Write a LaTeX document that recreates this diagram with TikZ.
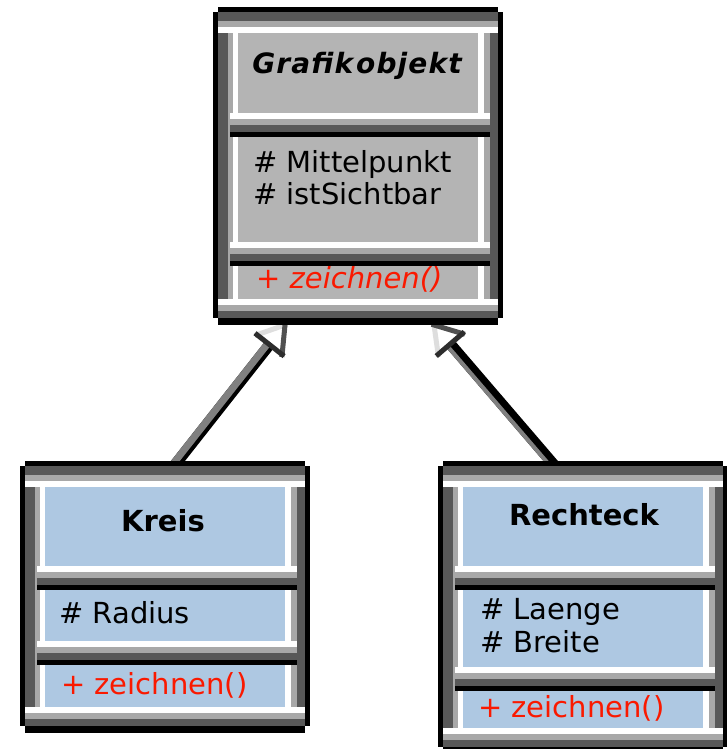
\documentclass[tikz,border=0pt]{standalone}
\usepackage{fontspec}
\setmainfont{DejaVu Sans}
\newfontfamily\titlefont{DejaVu Sans}[LetterSpace=4]
\usetikzlibrary{calc}

\definecolor{frameDark}{RGB}{88,88,88}
\definecolor{frameLight}{RGB}{168,168,168}
\definecolor{abstractFill}{RGB}{180,180,180}
\definecolor{classFill}{RGB}{174,200,226}
\definecolor{opRed}{RGB}{250,25,0}
\definecolor{arrowLight}{RGB}{222,222,222}
\definecolor{arrowDark}{RGB}{45,45,45}
\definecolor{arrowMid}{RGB}{80,80,80}
\definecolor{lineGray}{RGB}{128,128,128}

\tikzset{
  x=1pt, y=-1pt,
  labeltext/.style={inner sep=0pt, font=\fontsize{29}{34}\selectfont},
  nametext/.style={labeltext, anchor=base, font=\fontsize{29}{34}\selectfont\bfseries},
  attrtext/.style={labeltext, anchor=base west},
  optext/.style={labeltext, anchor=base west, text=opRed},
  connblack/.style={line width=11pt, black},
  conngray/.style={lineGray},
  headedge/.style={line width=5pt, line cap=rect},
}

% bevelled class frame: left, top, right, bottom, fill colour
\newcommand\bevelframe[5]{%
  \fill[#5] (#1+5,#2+5) rectangle (#3-5,#4-7);
  % side pillars
  \fill[frameDark]  (#1+5,#2+5)  rectangle (#1+15,#4-7);
  \fill[frameLight] (#1+15,#2+5) rectangle (#1+20,#4-7);
  \fill[white]      (#1+20,#2+5) rectangle (#1+25,#4-7);
  \fill[white]      (#3-25,#2+5) rectangle (#3-19,#4-7);
  \fill[frameLight] (#3-19,#2+5) rectangle (#3-13,#4-7);
  \fill[frameDark]  (#3-13,#2+5) rectangle (#3-5,#4-7);
  % top bands
  \fill[frameDark]  (#1+5,#2+5)  rectangle (#3-5,#2+14);
  \fill[frameLight] (#1+5,#2+14) rectangle (#3-5,#2+20);
  \fill[white]      (#1+5,#2+20) rectangle (#3-5,#2+26);
  % bottom bands
  \fill[white]      (#1+5,#4-26) rectangle (#3-5,#4-20);
  \fill[frameLight] (#1+5,#4-20) rectangle (#3-5,#4-14);
  \fill[frameDark]  (#1+5,#4-14) rectangle (#3-5,#4-7);
  % black outline with notched corners
  \fill[black] (#1+5,#2) rectangle (#3-5,#2+5);
  \fill[black] (#1+5,#4-7) rectangle (#3-5,#4);
  \fill[black] (#1,#2+5) rectangle (#1+5,#4-7);
  \fill[black] (#3-5,#2+5) rectangle (#3,#4-7);
}

% compartment separator: left, right, top of the rule
\newcommand\bevelrule[3]{%
  \fill[white]      (#1+17,#3)    rectangle (#2-13,#3+6);
  \fill[frameLight] (#1+17,#3+6)  rectangle (#2-13,#3+12);
  \fill[frameDark]  (#1+17,#3+12) rectangle (#2-13,#3+19);
  \fill[black]      (#1+17,#3+19) rectangle (#2-13,#3+24);
}

% generalization connector: from (#1) to tip (#2), helper prefix #3,
% width of the grey half #4, its sideways shift #5
\newcommand\inheritline[5]{%
  \coordinate (#3base) at ($(#2)!25pt!(#1)$);
  \draw[connblack] (#1) -- (#3base);
  \draw[conngray, line width=#4, transform canvas={xshift=#5}] (#1) -- (#3base);
}
% hollow triangle at tip #1, helper prefix #2
\newcommand\inherithead[2]{%
  \coordinate (#2cl) at ($(#2base)!16pt!90:(#1)$);
  \coordinate (#2cr) at ($(#2base)!16pt!-90:(#1)$);
  \fill[white] (#1) -- (#2cl) -- (#2cr) -- cycle;
  \draw[headedge, arrowLight] (#1) -- (#2cl);
  \draw[headedge, arrowMid] (#2cr) -- (#1);
  \draw[headedge, arrowDark] (#2cl) -- (#2cr);
}

\begin{document}
\begin{tikzpicture}
\useasboundingbox (0,0) rectangle (727,749);
\fill[white] (0,0) rectangle (727,749);
\clip (0,0) rectangle (727,749);

% connector end points
\coordinate (kreisTop) at (174,466);
\coordinate (rechteckTop) at (555,466);
\coordinate (tipLeft) at (285,325);
\coordinate (tipRight) at (434,325);

% connectors and their heads run behind the class boxes
\inheritline{kreisTop}{tipLeft}{hl}{7pt}{-2.6pt}
\inheritline{rechteckTop}{tipRight}{hr}{4pt}{-4.7pt}
\inherithead{tipLeft}{hl}
\inherithead{tipRight}{hr}

% Grafikobjekt
\bevelframe{213}{7}{503}{325}{abstractFill}
\bevelrule{213}{503}{113}
\bevelrule{213}{503}{242}
\node[labeltext, anchor=base] (grafikName) at (357,74)
  {\fontsize{28}{32}\titlefont\bfseries\itshape Grafik\kern3pt objekt};
\node[attrtext] (grafikAttrA) at (253,172) {\# Mittelpunkt};
\node[attrtext] (grafikAttrB) at (253,204) {\# istSichtbar};
\node[optext] (grafikOp) at (256,288) {\itshape + zeichnen()};

% Kreis
\bevelframe{20}{461}{310}{733}{classFill}
\bevelrule{20}{310}{566}
\bevelrule{20}{310}{641}
\node[nametext] (kreisName) at (163,531) {Kreis};
\node[attrtext] (kreisAttr) at (59,623) {\# Radius};
\node[optext] (kreisOp) at (61,694) {+ zeichnen()};

% Rechteck
\bevelframe{438}{461}{728}{754}{classFill}
\bevelrule{438}{728}{566}
\bevelrule{438}{728}{667}
\node[nametext] (rechteckName) at (584,525) {Rechteck};
\node[attrtext] (rechteckAttrA) at (480,619) {\# Laenge};
\node[attrtext] (rechteckAttrB) at (480,652) {\# Breite};
\node[optext] (rechteckOp) at (478,717) {+ zeichnen()};
\end{tikzpicture}
\end{document}
